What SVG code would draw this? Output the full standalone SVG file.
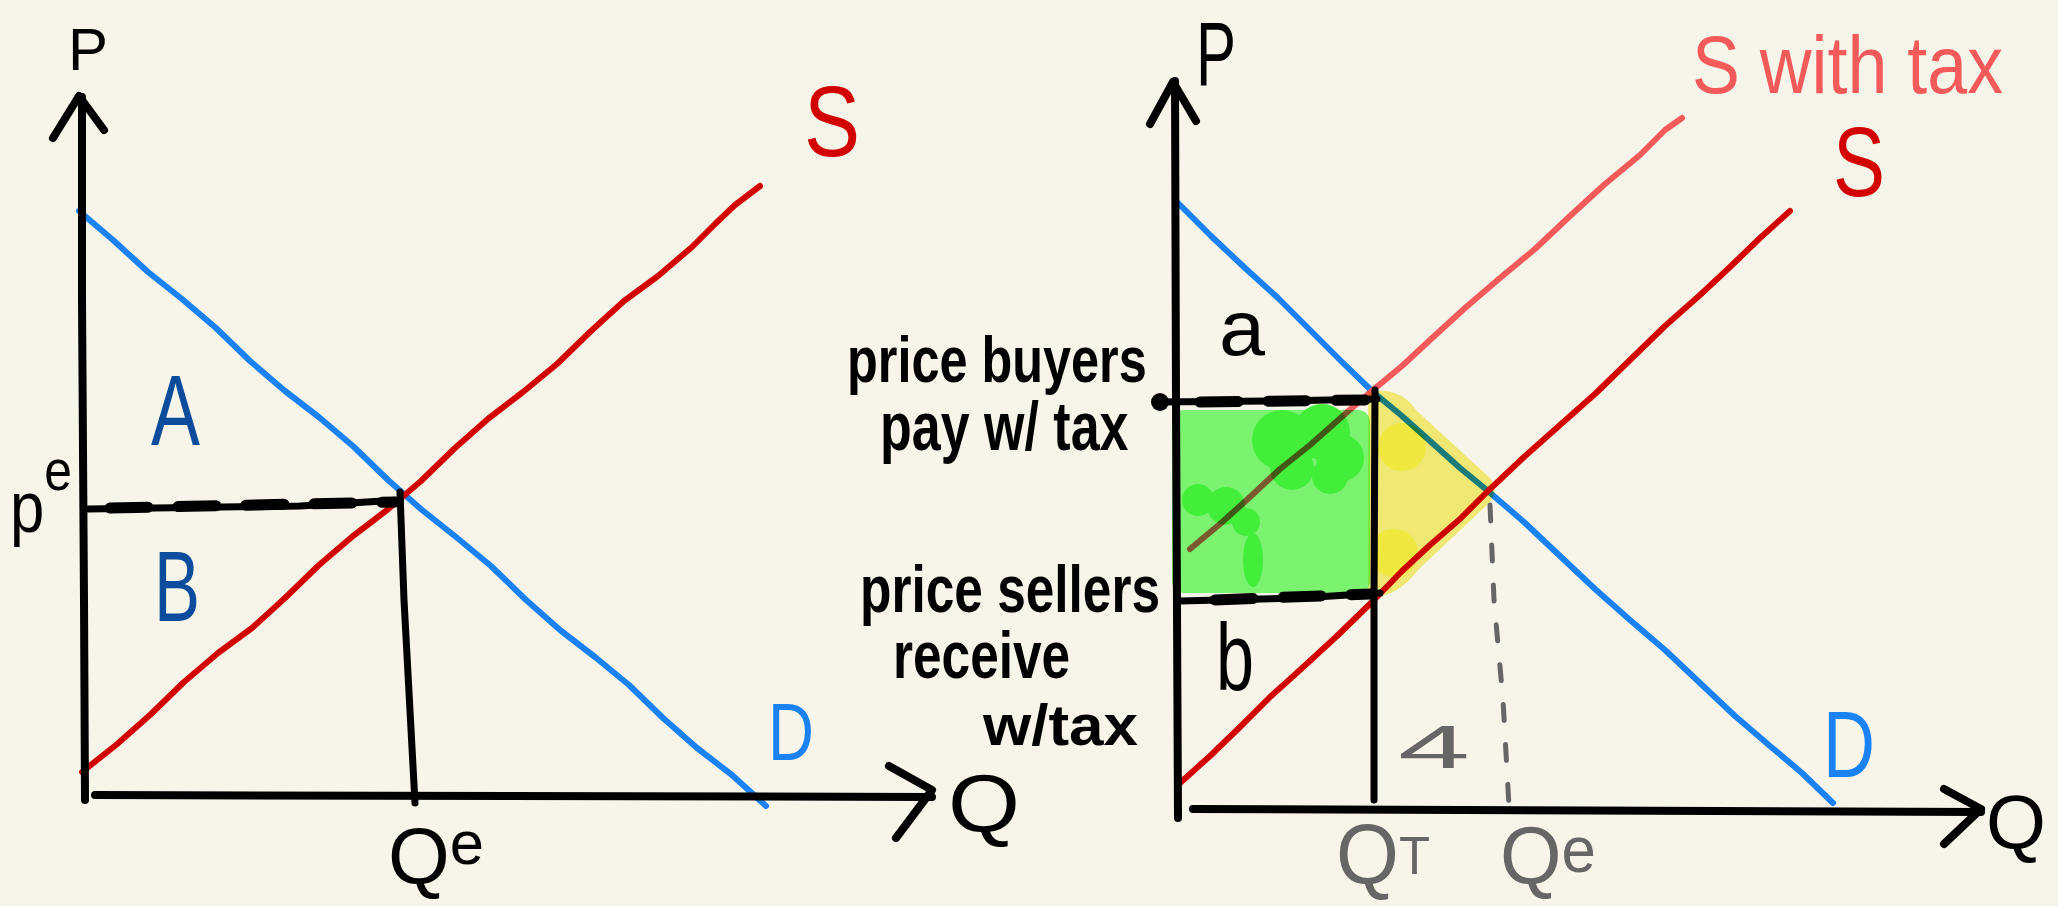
<svg xmlns="http://www.w3.org/2000/svg" width="2058" height="906" viewBox="0 0 2058 906">
<style>
.ax{fill:none;stroke:#000;stroke-width:8;stroke-linecap:round;stroke-linejoin:round}
.blk{fill:none;stroke:#000;stroke-width:7;stroke-linecap:round;stroke-linejoin:round}
.dash{fill:none;stroke:#000;stroke-width:11;stroke-linecap:round;stroke-dasharray:38 30}
.dem{fill:none;stroke:#1a82f5;stroke-width:6;stroke-linecap:round;stroke-linejoin:round}
.sup{fill:none;stroke:#d20000;stroke-width:6;stroke-linecap:round;stroke-linejoin:round}
.tax{fill:none;stroke:#f45a5a;stroke-width:6;stroke-linecap:round;stroke-linejoin:round}
.gdash{fill:none;stroke:#666;stroke-width:5;stroke-linecap:round;stroke-dasharray:16 24}
.t{font-family:"Liberation Sans",Arial,sans-serif}
.lab{font-family:"Liberation Sans",Arial,sans-serif;font-weight:bold;fill:#000}
.mul{mix-blend-mode:multiply}
</style>
<rect x="0" y="0" width="2058" height="906" fill="#f7f5e9"/>

<g id="left-chart">
  <g id="left-curves">
    <path id="left-demand" class="dem" d="M79,211 L113,240 L148,272 L182,299 L216,328 L250,361 L285,391 L320,418 L354,447 L388,480 L422,510 L456,537 L491,566 L525,599 L560,630 L595,657 L629,685 L663,718 L697,748 L732,775 L766,806"/>
    <path id="left-supply" class="sup" d="M82,772 L116,745 L150,715 L184,682 L218,653 L252,628 L285,598 L319,565 L353,536 L387,510 L421,481 L455,448 L489,418 L523,392 L557,364 L591,331 L624,301 L658,276 L692,247 L715,224 L735,205 L760,186"/>
  </g>
  <g id="left-axes">
    <path class="ax" d="M82,97 L82,300 L84,600 L85,800"/>
    <path class="ax" d="M53,138 L79,96 L104,130"/>
    <path class="ax" d="M95,795 L932,797"/>
    <path class="ax" d="M889,766 L932,790 L896,838"/>
  </g>
  <g id="left-equilibrium">
    <path class="blk" d="M88,509 L300,506 L400,500"/>
    <path class="dash" d="M110,508 L395,502"/>
    <path class="blk" d="M400,492 L404,600 L415,803"/>
  </g>
  <g id="left-labels">
    <text class="t" x="68" y="70" font-size="60" textLength="40" lengthAdjust="spacingAndGlyphs">P</text>
    <text class="t" x="10" y="532" font-size="72" textLength="62" lengthAdjust="spacingAndGlyphs">p<tspan font-size="58" dy="-42">e</tspan></text>
    <text class="t" x="151" y="445" font-size="100" fill="#0b4c9c" textLength="49" lengthAdjust="spacingAndGlyphs">A</text>
    <text class="t" x="154" y="621" font-size="100" fill="#0b4c9c" textLength="46" lengthAdjust="spacingAndGlyphs">B</text>
    <text class="t" x="804" y="156" font-size="100" fill="#d20000" textLength="56" lengthAdjust="spacingAndGlyphs">S</text>
    <text class="t" x="768" y="760" font-size="82" fill="#1a82f5" textLength="46" lengthAdjust="spacingAndGlyphs">D</text>
    <text class="t" x="948" y="832" font-size="82" textLength="72" lengthAdjust="spacingAndGlyphs">Q</text>
    <text class="t" x="388" y="884" font-size="80" textLength="96" lengthAdjust="spacingAndGlyphs">Q<tspan font-size="62" dy="-20">e</tspan></text>
  </g>
</g>

<g id="right-chart">
  <g id="right-curves">
    <path id="right-demand" class="dem" d="M1177,202 L1211,236 L1245,268 L1278,298 L1310,330 L1342,362 L1373,392 L1402,416 L1430,441 L1460,468 L1488,491 L1524,522 L1560,556 L1595,589 L1630,620 L1665,650 L1700,683 L1735,716 L1770,746 L1802,773 L1833,803"/>
    <path id="right-supply" class="sup" d="M1180,783 L1210,756 L1240,727 L1270,697 L1300,670 L1337,636 L1374,600 L1402,571 L1430,545 L1460,519 L1488,491 L1524,457 L1560,425 L1595,394 L1630,360 L1665,326 L1700,295 L1730,267 L1760,238 L1790,211"/>
    <path id="right-supply-tax" class="tax" d="M1190,549 L1220,524 L1250,497 L1280,469 L1310,445 L1353,407 L1373,390 L1402,366 L1430,340 L1465,308 L1500,278 L1535,249 L1570,216 L1605,184 L1640,155 L1665,130 L1682,118"/>
  </g>
  <g id="tax-revenue" class="mul">
    <rect x="1172" y="410" width="198" height="183" rx="12" fill="#80fc7c"/>
    <circle cx="1282" cy="440" r="30" fill="#44f83f"/>
    <circle cx="1322" cy="432" r="28" fill="#44f83f"/>
    <circle cx="1340" cy="458" r="24" fill="#44f83f"/>
    <circle cx="1292" cy="468" r="22" fill="#44f83f"/>
    <circle cx="1330" cy="476" r="18" fill="#44f83f"/>
    <circle cx="1198" cy="500" r="16" fill="#44f83f"/>
    <circle cx="1226" cy="506" r="19" fill="#44f83f"/>
    <circle cx="1246" cy="522" r="14" fill="#44f83f"/>
    <ellipse cx="1253" cy="560" rx="10" ry="27" fill="#44f83f"/>
  </g>
  <g id="deadweight-loss" class="mul">
    <path d="M1368,392 Q1400,386 1416,410 L1490,478 Q1500,492 1488,504 L1418,570 Q1395,600 1368,596 Z" fill="#f8f27e"/>
    <circle cx="1402" cy="447" r="24" fill="#f8f245"/>
    <circle cx="1394" cy="553" r="24" fill="#f8f245"/>
  </g>
  <g id="right-axes">
    <path class="ax" d="M1175,81 L1176,400 L1178,818"/>
    <path class="ax" d="M1150,124 L1173,82 L1196,121"/>
    <path class="ax" d="M1193,809 L1981,812"/>
    <path class="ax" d="M1944,789 L1981,809 L1944,844"/>
  </g>
  <g id="tax-lines">
    <path class="blk" d="M1158,402 L1280,401 L1377,399" stroke-width="9"/>
    <circle cx="1160" cy="402" r="9" fill="#000"/>
    <path class="dash" d="M1200,402 L1365,400" stroke-width="12"/>
    <path class="blk" d="M1180,601 L1300,598 L1380,593"/>
    <path class="dash" d="M1215,600 L1370,594"/>
    <path class="blk" d="M1375,390 L1374,600 L1374,800"/>
    <path class="gdash" d="M1490,505 L1494,600 L1503,700 L1509,806"/>
  </g>
  <g id="right-labels">
    <text class="t" x="1196" y="85" font-size="90" textLength="40" lengthAdjust="spacingAndGlyphs">P</text>
    <text class="t" x="1986" y="848" font-size="76" textLength="60" lengthAdjust="spacingAndGlyphs">Q</text>
    <text class="t" x="1692" y="93" font-size="82" fill="#f45a5a" textLength="311" lengthAdjust="spacingAndGlyphs">S with tax</text>
    <text class="t" x="1833" y="196" font-size="98" fill="#d20000" textLength="52" lengthAdjust="spacingAndGlyphs">S</text>
    <text class="t" x="1219" y="355" font-size="78" textLength="46" lengthAdjust="spacingAndGlyphs">a</text>
    <text class="t" x="1216" y="690" font-size="94" textLength="38" lengthAdjust="spacingAndGlyphs">b</text>
    <text class="t" x="1823" y="777" font-size="95" fill="#1a82f5" textLength="52" lengthAdjust="spacingAndGlyphs">D</text>
    <text class="t" x="1398" y="768" font-size="62" fill="#666" textLength="72" lengthAdjust="spacingAndGlyphs">4</text>
    <text class="t" x="1336" y="884" font-size="86" fill="#666" textLength="94" lengthAdjust="spacingAndGlyphs">Q<tspan font-size="54" dy="-10">T</tspan></text>
    <text class="t" x="1500" y="884" font-size="82" fill="#666" textLength="96" lengthAdjust="spacingAndGlyphs">Q<tspan font-size="64" dy="-12">e</tspan></text>
  </g>
  <g id="price-labels">
    <text class="lab" transform="scale(1,1.3)" font-size="50.4"><tspan x="847" y="293.85">price buyers</tspan><tspan x="880" y="346.15" font-size="52">pay w/ tax</tspan></text>
    <text class="lab" transform="scale(1,1.3)" font-size="51.4"><tspan x="860" y="470.77">price sellers</tspan><tspan x="893" y="521.5">receive</tspan></text>
    <text class="lab" transform="scale(1,1.15)" x="983" y="647.8" font-size="50" textLength="155" lengthAdjust="spacingAndGlyphs">w/tax</text>
  </g>
</g>
</svg>
